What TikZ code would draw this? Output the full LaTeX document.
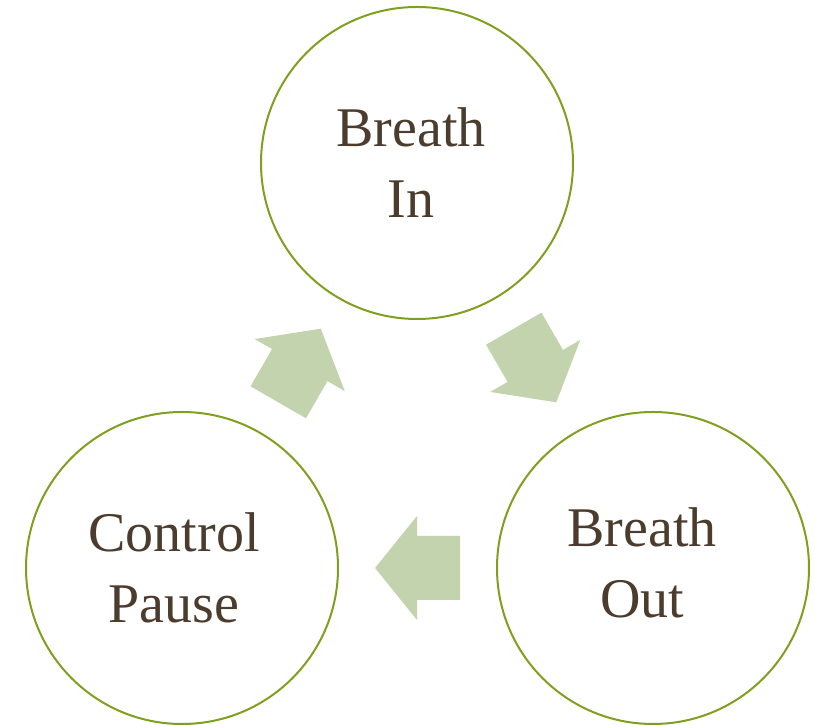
\documentclass[tikz,border=0pt]{standalone}
\usepackage{fontspec}
\setmainfont{Liberation Serif}
\usetikzlibrary{calc}

\definecolor{ringgreen}{HTML}{7F9F1F}
\definecolor{textbrown}{HTML}{4B3C2D}
\definecolor{arrowgreen}{HTML}{C3D3AD}

\tikzset{
	stage/.style={draw=ringgreen,line width=2pt,circle,minimum size=312pt,inner sep=0pt},
	stagetext/.style={text=textbrown,align=center,inner sep=0pt,font=\fontsize{56}{71}\selectfont},
	flowarrow/.pic={
		\fill[arrowgreen] (-42.5,-32) -- (0.5,-32) -- (0.5,-52) -- (42.5,0)
			-- (0.5,52) -- (0.5,32) -- (-42.5,32) -- cycle;
	}
}

\begin{document}
\begin{tikzpicture}[x=1pt,y=1pt]

	\useasboundingbox (0,0) rectangle (815,725);

	\node[stage] (in) at (417,562) {};
	\node[stage] (out) at (653,157) {};
	\node[stage] (pause) at (182,157) {};
	
	\node[stagetext] (in_text) at (in) [xshift=-6pt] {Breath\\In};
	\node[stagetext] (out_text) at (out) [xshift=-11pt,yshift=5pt] {Breath\\Out};
	\node[stagetext] (pause_text) at (pause) [xshift=-8pt] {Control\\Pause};
	
	\pic[rotate=60] at ($(pause)!0.5!(in)$) {flowarrow};
	\pic[rotate=-60] at ($(in)!0.5!(out)$) {flowarrow};
	\pic[rotate=180] at ($(out)!0.5!(pause)$) {flowarrow};
	
\end{tikzpicture}
\end{document}
